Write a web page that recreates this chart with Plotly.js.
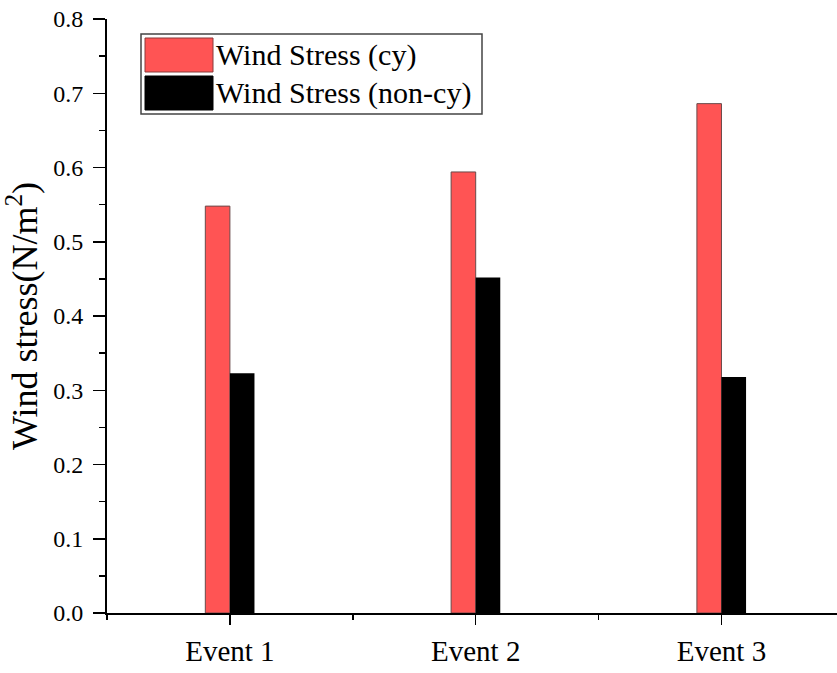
<!DOCTYPE html>
<html>
<head>
<meta charset="utf-8">
<script src="https://cdn.plot.ly/plotly-3.0.1.min.js"></script>
<style>
  html, body { margin: 0; padding: 0; background: #ffffff; }
  #chart { width: 837px; height: 673px; }
</style>
</head>
<body>
<div id="chart"></div>
<script>
// Wind stress per event, cyclone vs non-cyclone conditions
const categories = ['Event 1', 'Event 2', 'Event 3'];
const seriesNames = ['Wind Stress (cy)', 'Wind Stress (non-cy)'];
const cyValues = [0.548, 0.594, 0.686];
const nonCyValues = [0.323, 0.452, 0.318];
const seriesColors = ['#ff5454', '#000000'];

// Page and plot-area geometry (pixels)
const W = 837, H = 673;
const M = { l: 107, r: 0, t: 19, b: 60 };
const plotW = W - M.l - M.r;
const plotH = H - M.t - M.b;
const px = x => (x - M.l) / plotW;
const py = y => 1 - (y - M.t) / plotH;

const FONT = 'Liberation Serif, Times New Roman, serif';

const xPos = categories.map((_, i) => i);
const boundaries = categories.map((_, i) => i - 0.5);

const traces = [
  {
    type: 'bar',
    name: seriesNames[0],
    x: xPos,
    y: cyValues,
    marker: { color: seriesColors[0], line: { color: '#6a4a4a', width: 1 } },
    hoverinfo: 'y'
  },
  {
    type: 'bar',
    name: seriesNames[1],
    x: xPos,
    y: nonCyValues,
    marker: { color: seriesColors[1], line: { width: 0 } },
    hoverinfo: 'y'
  }
];

const layout = {
  width: W,
  height: H,
  margin: M,
  paper_bgcolor: '#ffffff',
  plot_bgcolor: '#ffffff',
  showlegend: false,
  barmode: 'group',
  bargap: 0.8,
  bargroupgap: 0,
  font: { family: FONT, color: '#000000' },
  xaxis: {
    type: 'linear',
    range: [-0.5, 2.47],
    tickmode: 'array',
    tickvals: xPos,
    ticktext: categories,
    ticks: 'outside',
    ticklen: 10,
    tickwidth: 1.5,
    tickcolor: '#000',
    ticklabelstandoff: 1,
    tickfont: { family: FONT, size: 29, color: '#000' },
    minor: { tickmode: 'array', tickvals: boundaries, ticks: 'outside', ticklen: 5, tickwidth: 1.5, tickcolor: '#000' },
    showline: true,
    linecolor: '#000',
    linewidth: 2,
    showgrid: false,
    zeroline: false,
    fixedrange: true
  },
  yaxis: {
    range: [0, 0.8],
    dtick: 0.1,
    tick0: 0,
    tickformat: '.1f',
    ticks: 'outside',
    ticklen: 12,
    tickwidth: 1.5,
    tickcolor: '#000',
    ticklabelstandoff: 5,
    tickfont: { family: FONT, size: 24, color: '#000' },
    minor: { dtick: 0.05, ticks: 'outside', ticklen: 6, tickwidth: 1.5, tickcolor: '#000' },
    showline: true,
    linecolor: '#000',
    linewidth: 2,
    showgrid: false,
    zeroline: false,
    fixedrange: true,
    title: { text: 'Wind stress(N/m<sup>2</sup>)', font: { family: FONT, size: 36, color: '#000' }, standoff: 9 }
  },
  shapes: [
    // legend frame
    { type: 'rect', xref: 'paper', yref: 'paper', x0: px(141), x1: px(482), y0: py(114), y1: py(34),
      line: { color: '#444', width: 1.5 }, fillcolor: 'rgba(0,0,0,0)' },
    // legend swatches
    { type: 'rect', xref: 'paper', yref: 'paper', x0: px(145), x1: px(213), y0: py(72), y1: py(38),
      line: { color: '#8a3a3a', width: 1 }, fillcolor: seriesColors[0] },
    { type: 'rect', xref: 'paper', yref: 'paper', x0: px(145), x1: px(213), y0: py(110), y1: py(76),
      line: { color: '#000', width: 1 }, fillcolor: seriesColors[1] }
  ],
  annotations: [
    { xref: 'paper', yref: 'paper', x: px(214), y: py(55), xanchor: 'left', yanchor: 'middle',
      text: seriesNames[0], showarrow: false, font: { family: FONT, size: 30, color: '#000' } },
    { xref: 'paper', yref: 'paper', x: px(214), y: py(93), xanchor: 'left', yanchor: 'middle',
      text: seriesNames[1], showarrow: false, font: { family: FONT, size: 30, color: '#000' } }
  ]
};

Plotly.newPlot('chart', traces, layout, { displayModeBar: false, staticPlot: true });
</script>
</body>
</html>
